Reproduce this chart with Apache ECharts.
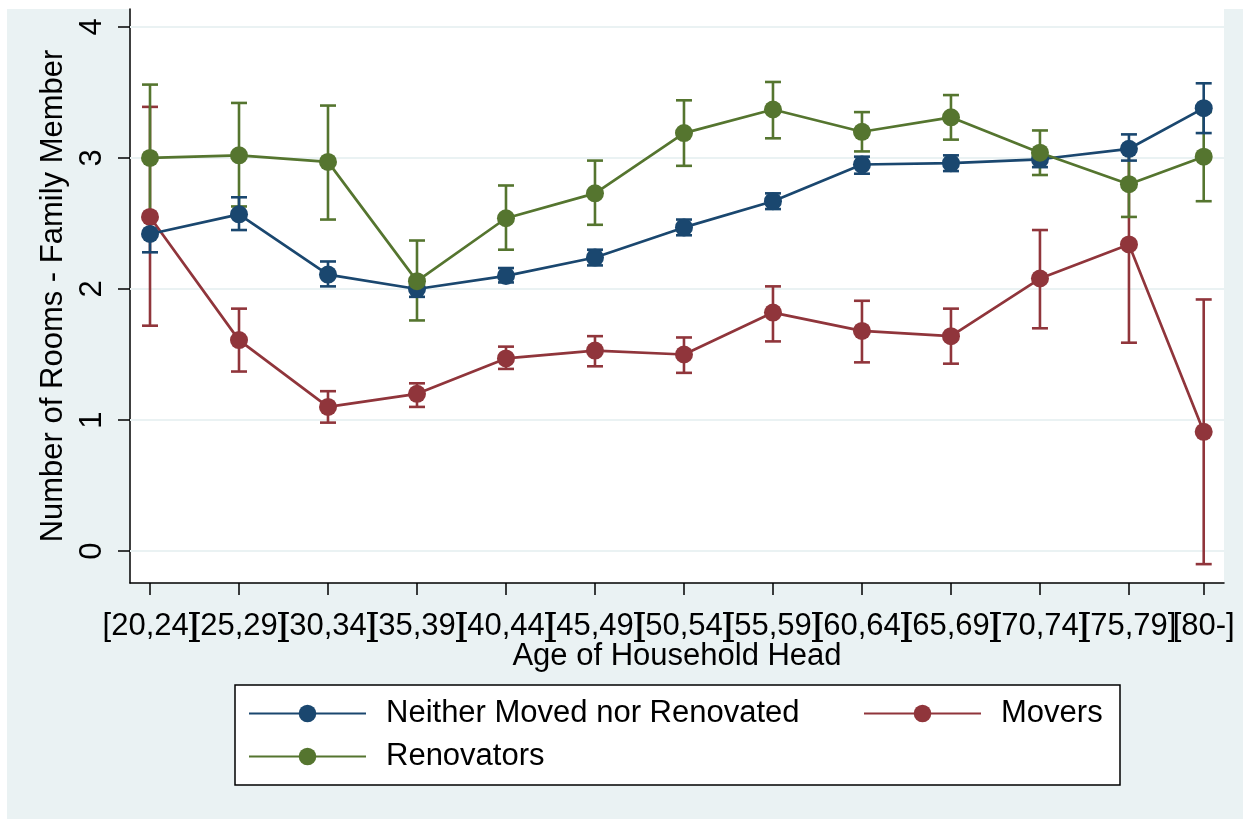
<!DOCTYPE html>
<html>
<head>
<meta charset="utf-8">
<script src="https://cdn.jsdelivr.net/npm/echarts@6/dist/echarts.min.js"></script>
<style>
  html, body { margin: 0; padding: 0; background: #ffffff; }
  #chart { width: 1250px; height: 826px; }
</style>
</head>
<body>
<div id="chart"></div>
<script>
// Age groups of the household head and where each group sits on the age axis
const groups = ['[20,24]', '[25,29]', '[30,34]', '[35,39]', '[40,44]', '[45,49]', '[50,54]',
                '[55,59]', '[60,64]', '[65,69]', '[70,74]', '[75,79]', '[80-]'];
const agePos = [22, 27, 32, 37, 42, 47, 52, 57, 62, 67, 72, 77, 81.2];
const yTicks = [0, 1, 2, 3, 4];

// Rooms minus family members: mean and confidence interval per group
const neither   = [2.42, 2.57, 2.11, 2.00, 2.10, 2.24, 2.47, 2.67, 2.95, 2.96, 2.99, 3.07, 3.38];
const neitherLo = [2.28, 2.45, 2.02, 1.94, 2.05, 2.18, 2.41, 2.61, 2.88, 2.90, 2.93, 2.98, 3.19];
const neitherHi = [2.56, 2.70, 2.21, 2.06, 2.16, 2.30, 2.53, 2.73, 3.01, 3.02, 3.05, 3.18, 3.57];

const movers    = [2.55, 1.61, 1.10, 1.20, 1.47, 1.53, 1.50, 1.82, 1.68, 1.64, 2.08, 2.34, 0.91];
const moversLo  = [1.72, 1.37, 0.98, 1.10, 1.39, 1.41, 1.36, 1.60, 1.44, 1.43, 1.70, 1.59, -0.10];
const moversHi  = [3.39, 1.85, 1.22, 1.28, 1.56, 1.64, 1.63, 2.02, 1.91, 1.85, 2.45, 3.09, 1.92];

const renov     = [3.00, 3.02, 2.97, 2.06, 2.54, 2.73, 3.19, 3.37, 3.20, 3.31, 3.04, 2.80, 3.01];
const renovLo   = [2.44, 2.63, 2.53, 1.76, 2.30, 2.49, 2.94, 3.15, 3.05, 3.14, 2.87, 2.55, 2.67];
const renovHi   = [3.56, 3.42, 3.40, 2.37, 2.79, 2.98, 3.44, 3.58, 3.35, 3.48, 3.21, 3.05, 3.35];

const C_BLUE = '#1a476f', C_RED = '#90353b', C_GREEN = '#55752f';
const BG = '#eaf2f3';
const FONT = "'Liberation Sans', Arial, sans-serif";
const X_MIN = 20.876, X_MAX = 82.34, Y_MIN = -0.244, Y_MAX = 4.137;

const chart = echarts.init(document.getElementById('chart'), null, { renderer: 'canvas' });

function points(vals) {
  return agePos.map((x, i) => [x, vals[i]]);
}
function ranges(lo, hi) {
  return agePos.map((x, i) => [x, lo[i], hi[i]]);
}

// Vertical capped range bars
function capRender(color) {
  return function (params, api) {
    const x = api.value(0);
    const pLo = api.coord([x, api.value(1)]);
    const pHi = api.coord([x, api.value(2)]);
    const hw = 8;
    const style = { stroke: color, lineWidth: 2.6, fill: null };
    return {
      type: 'group',
      children: [
        { type: 'line', shape: { x1: pLo[0], y1: pLo[1], x2: pHi[0], y2: pHi[1] }, style: style },
        { type: 'line', shape: { x1: pLo[0] - hw, y1: pLo[1], x2: pLo[0] + hw, y2: pLo[1] }, style: style },
        { type: 'line', shape: { x1: pHi[0] - hw, y1: pHi[1], x2: pHi[0] + hw, y2: pHi[1] }, style: style }
      ]
    };
  };
}

function capSeries(name, lo, hi, color) {
  return {
    type: 'custom',
    name: name,
    renderItem: capRender(color),
    data: ranges(lo, hi),
    encode: { x: 0, y: [1, 2] },
    silent: true,
    z: 2
  };
}

function lineSeries(name, vals, color, extra) {
  return Object.assign({
    type: 'line',
    name: name,
    data: points(vals),
    symbol: 'circle',
    symbolSize: 18,
    showSymbol: true,
    color: color,
    itemStyle: { color: color },
    lineStyle: { color: color, width: 2.7 },
    emphasis: { disabled: true },
    silent: true,
    z: 3
  }, extra || {});
}

// Age-group labels under the x axis, placed at each group's age position
const groupLabelSeries = {
  type: 'custom',
  name: 'age groups',
  clip: false,
  silent: true,
  data: agePos.map((x, i) => [x, i]),
  encode: { x: 0 },
  renderItem: function (params, api) {
    const p = api.coord([api.value(0), Y_MIN]);
    return {
      type: 'text',
      x: p[0],
      y: p[1] + 28,
      style: {
        text: groups[api.value(1)],
        fill: '#000',
        font: "31px 'Liberation Sans', Arial, sans-serif",
        align: 'center',
        verticalAlign: 'top'
      }
    };
  }
};

const legendText = { color: '#000', fontFamily: FONT, fontSize: 31, padding: [0, 0, 0, 15] };
const legendCommon = {
  orient: 'vertical', top: 698,
  itemWidth: 117, itemHeight: 22, itemGap: 12,
  textStyle: legendText, selectedMode: false, padding: 0
};

const option = {
  animation: false,
  backgroundColor: '#ffffff',
  textStyle: { fontFamily: FONT },
  graphic: [
    { type: 'rect', z: -20, shape: { x: 7, y: 9, width: 1236, height: 810 }, style: { fill: BG } },
    { type: 'rect', z: -19, shape: { x: 130, y: 9, width: 1094, height: 574 }, style: { fill: '#ffffff' } },
    { type: 'rect', z: -18, shape: { x: 235, y: 685, width: 885, height: 100 },
      style: { fill: '#ffffff', stroke: '#000', lineWidth: 1.5 } }
  ],
  grid: { left: 130, right: 26, top: 9, bottom: 243, containLabel: false },
  xAxis: {
    type: 'value',
    min: X_MIN,
    max: X_MAX,
    name: 'Age of Household Head',
    nameLocation: 'middle',
    nameGap: 58,
    nameTextStyle: { color: '#000', fontSize: 31, fontFamily: FONT },
    axisLine: { show: true, onZero: false, lineStyle: { color: '#000', width: 1.5 } },
    axisTick: { show: true, length: 12, lineStyle: { color: '#000', width: 1.5 }, customValues: agePos },
    axisLabel: { show: false },
    splitLine: { show: false }
  },
  yAxis: {
    type: 'value',
    min: Y_MIN,
    max: Y_MAX,
    name: 'Number of Rooms - Family Member',
    nameLocation: 'middle',
    nameRotate: 90,
    nameGap: 50,
    nameTextStyle: { color: '#000', fontSize: 31, fontFamily: FONT },
    axisLine: { show: true, onZero: false, lineStyle: { color: '#000', width: 1.5 } },
    axisTick: { show: true, length: 12, lineStyle: { color: '#000', width: 1.5 }, customValues: yTicks },
    axisLabel: { show: true, customValues: yTicks, rotate: 90, margin: 22, color: '#000', fontSize: 31, fontFamily: FONT },
    splitLine: { show: false }
  },
  legend: [
    Object.assign({ data: ['Neither Moved nor Renovated', 'Renovators'], left: 248 }, legendCommon),
    Object.assign({ data: ['Movers'], left: 863 }, legendCommon)
  ],
  series: [
    capSeries('Movers interval', moversLo, moversHi, C_RED),
    capSeries('Renovators interval', renovLo, renovHi, C_GREEN),
    capSeries('Neither interval', neitherLo, neitherHi, C_BLUE),
    lineSeries('Movers', movers, C_RED),
    lineSeries('Neither Moved nor Renovated', neither, C_BLUE, {
      markLine: {
        silent: true, symbol: 'none', z: 1,
        label: { show: false },
        lineStyle: { color: BG, width: 2, type: 'solid' },
        data: yTicks.map(v => ({ yAxis: v }))
      }
    }),
    lineSeries('Renovators', renov, C_GREEN),
    groupLabelSeries
  ]
};

chart.setOption(option);
</script>
</body>
</html>
